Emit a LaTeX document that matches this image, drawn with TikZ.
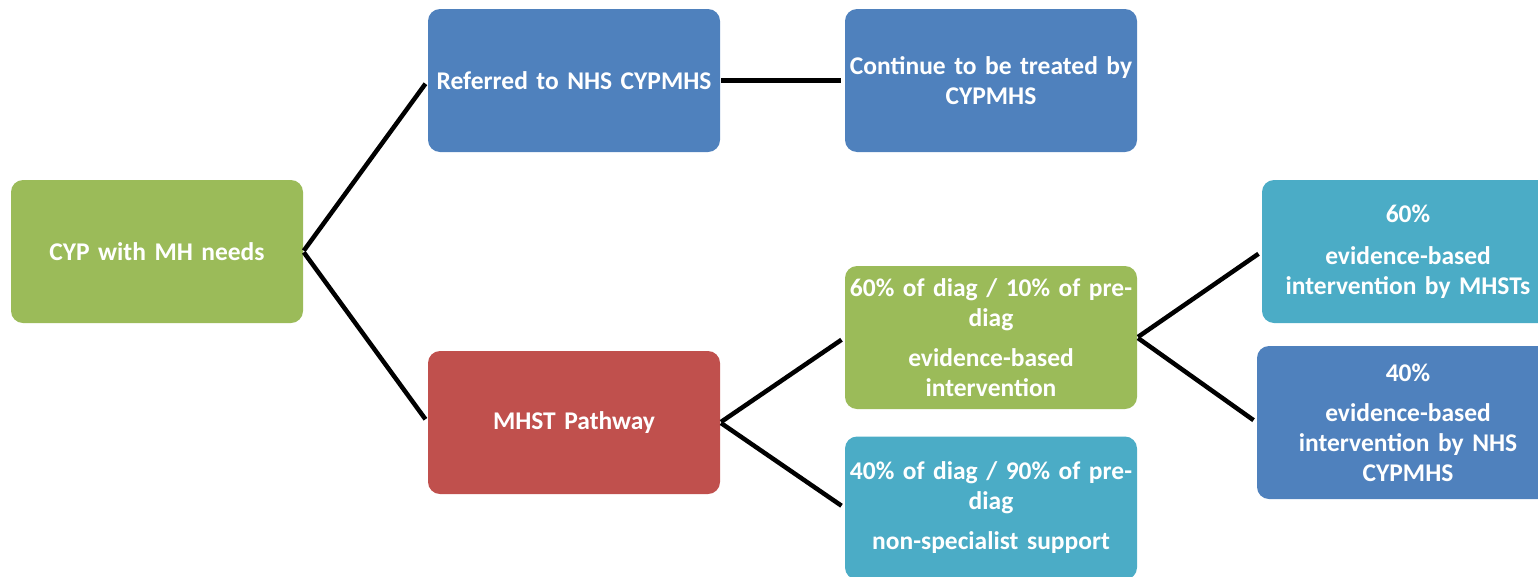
\documentclass[tikz,border=0pt]{standalone}
\usepackage{fontspec}
\setmainfont{Carlito}
\definecolor{cgreen}{HTML}{9BBB59}
\definecolor{cblue}{HTML}{4F81BD}
\definecolor{cred}{HTML}{C0504D}
\definecolor{cteal}{HTML}{4BACC6}
\begin{document}
\begin{tikzpicture}[x=1pt,y=-1pt,
  box/.style={rounded corners=12pt, minimum width=292pt, minimum height=143pt,
    inner sep=0pt, text=white, font=\bfseries\fontsize{25.5}{30}\selectfont,
    align=center, text width=292pt},
  link/.style={line width=4.5pt, black, shorten >=4pt, shorten <=1pt}]
\useasboundingbox (0,0) rectangle (1538,576);
\clip (0,0) rectangle (1538,576);
\node[box, fill=cgreen] (cyp) at (157,251.5) {CYP with MH needs};
\node[box, fill=cblue] (ref) at (574,80.5) {Referred to NHS CYPMHS};
\node[box, fill=cblue] (cont) at (991,80.5) {Continue to be treated by\\CYPMHS};
\node[box, fill=cred] (mhst) at (574,422.5) {MHST Pathway};
\node[box, fill=cgreen] (ebi) at (991,337.5) {60\% of diag / 10\% of pre-\\diag\\[10pt]evidence-based\\intervention};
\node[box, fill=cteal] (nss) at (991,508) {40\% of diag / 90\% of pre-\\diag\\[10pt]non-specialist support};
\node[box, fill=cteal] (mhsts) at (1408,251.5) {60\%\\[12pt]evidence-based\\intervention by MHSTs};
\node[box, fill=cblue, minimum width=302pt, minimum height=153pt] (nhs) at (1408,422.5) {40\%\\[10pt]evidence-based\\intervention by NHS\\CYPMHS};
\draw[link] (cyp.east) -- (ref.west);
\draw[link] (cyp.east) -- (mhst.west);
\draw[link] (ref.east) -- (cont.west);
\draw[link] (mhst.east) -- (ebi.west);
\draw[link] (mhst.east) -- (nss.west);
\draw[link] (ebi.east) -- (mhsts.west);
\draw[link] (ebi.east) -- (nhs.west);
\end{tikzpicture}
\end{document}
